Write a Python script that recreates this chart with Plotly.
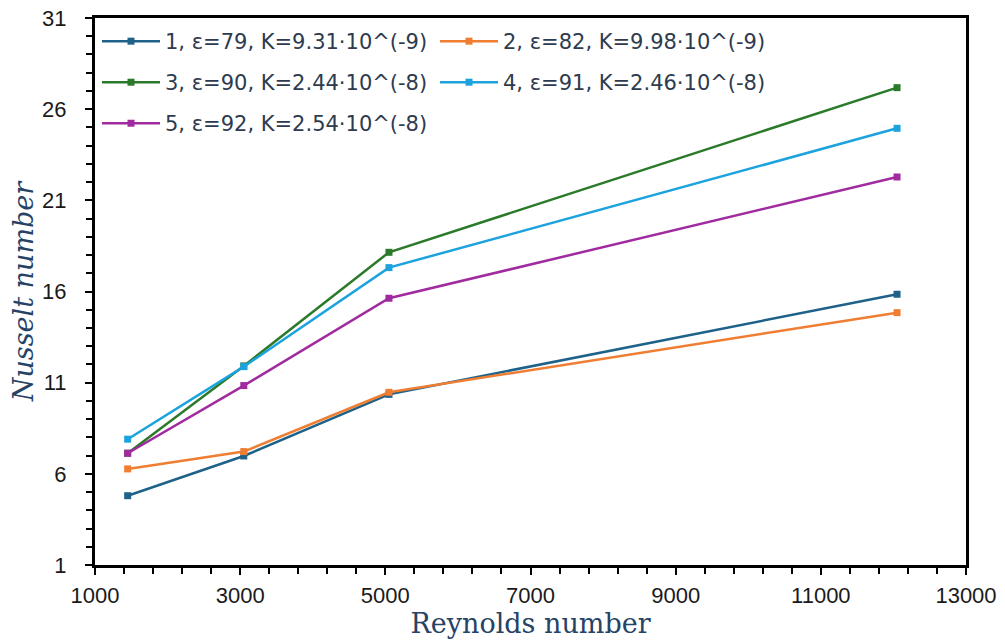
import plotly.graph_objects as go

reynolds = [1450, 3050, 5050, 12050]
series_names = [
    "1, ε=79, K=9.31·10^(-9)",
    "2, ε=82, K=9.98·10^(-9)",
    "3, ε=90, K=2.44·10^(-8)",
    "4, ε=91, K=2.46·10^(-8)",
    "5, ε=92, K=2.54·10^(-8)",
]
nu_1 = [4.80, 6.98, 10.36, 15.85]
nu_2 = [6.27, 7.22, 10.47, 14.84]
nu_3 = [7.13, 11.92, 18.15, 27.18]
nu_4 = [7.90, 11.88, 17.31, 24.95]
nu_5 = [7.13, 10.84, 15.63, 22.28]
series_values = [nu_1, nu_2, nu_3, nu_4, nu_5]
colors = ["#1E6189", "#EF7D32", "#2A7A2A", "#1CA3DE", "#A02B9F"]
legend_ids = ["legend", "legend", "legend2", "legend2", "legend3"]

x_ticks = [1000, 3000, 5000, 7000, 9000, 11000, 13000]
y_ticks = [1, 6, 11, 16, 21, 26, 31]

fig = go.Figure()
for name, vals, col, lg in zip(series_names, series_values, colors, legend_ids):
    fig.add_trace(go.Scatter(
        x=reynolds, y=vals, name=name, mode="lines+markers",
        line=dict(color=col, width=2.5),
        marker=dict(symbol="square", size=7, color=col),
        legend=lg,
    ))

leg_common = dict(
    orientation="h", xanchor="left", yanchor="middle",
    entrywidth=265, entrywidthmode="pixels",
    bgcolor="rgba(0,0,0,0)",
    font=dict(family="DejaVu Sans, sans-serif", size=21, color="#2E3B4E"),
    itemwidth=58,
)

fig.update_layout(
    width=1005, height=640,
    margin=dict(l=87, r=47, t=10, b=83, autoexpand=False),
    plot_bgcolor="white", paper_bgcolor="white",
    showlegend=True,
    legend=dict(x=0.0023, y=0.957, **leg_common),
    legend2=dict(x=0.0023, y=0.882, **leg_common),
    legend3=dict(x=0.0023, y=0.807, **leg_common),
    xaxis=dict(
        range=[1000, 13000], tickvals=x_ticks, ticktext=[str(v) for v in x_ticks],
        showgrid=False, zeroline=False, automargin=False,
        showline=True, linecolor="black", linewidth=3, mirror=True,
        ticks="outside", ticklen=7, tickwidth=2, tickcolor="black",
        minor=dict(dtick=400, tick0=1000, ticks="outside", ticklen=6, tickwidth=2, tickcolor="black", showgrid=False),
        tickfont=dict(family="Liberation Sans, Arial", size=22, color="#1a1a1a"),
        ticklabelstandoff=2, ticklabeloverflow="allow",
        title=dict(text="Reynolds number", standoff=0,
                   font=dict(family="DejaVu Serif", size=27, color="#264366")),
    ),
    yaxis=dict(
        range=[1, 31], tickvals=y_ticks, ticktext=[str(v) for v in y_ticks],
        showgrid=False, zeroline=False, automargin=False,
        showline=True, linecolor="black", linewidth=3, mirror=True,
        ticks="outside", ticklen=7, tickwidth=2, tickcolor="black",
        minor=dict(dtick=1, tick0=1, ticks="outside", ticklen=6, tickwidth=2, tickcolor="black", showgrid=False),
        tickfont=dict(family="Liberation Sans, Arial", size=22, color="#1a1a1a"),
        ticklabelstandoff=14, ticklabeloverflow="allow",
        title=dict(text="<i>Nusselt number</i>", standoff=3,
                   font=dict(family="DejaVu Serif", size=27, color="#264366")),
    ),
)

fig.write_html("out.html")
